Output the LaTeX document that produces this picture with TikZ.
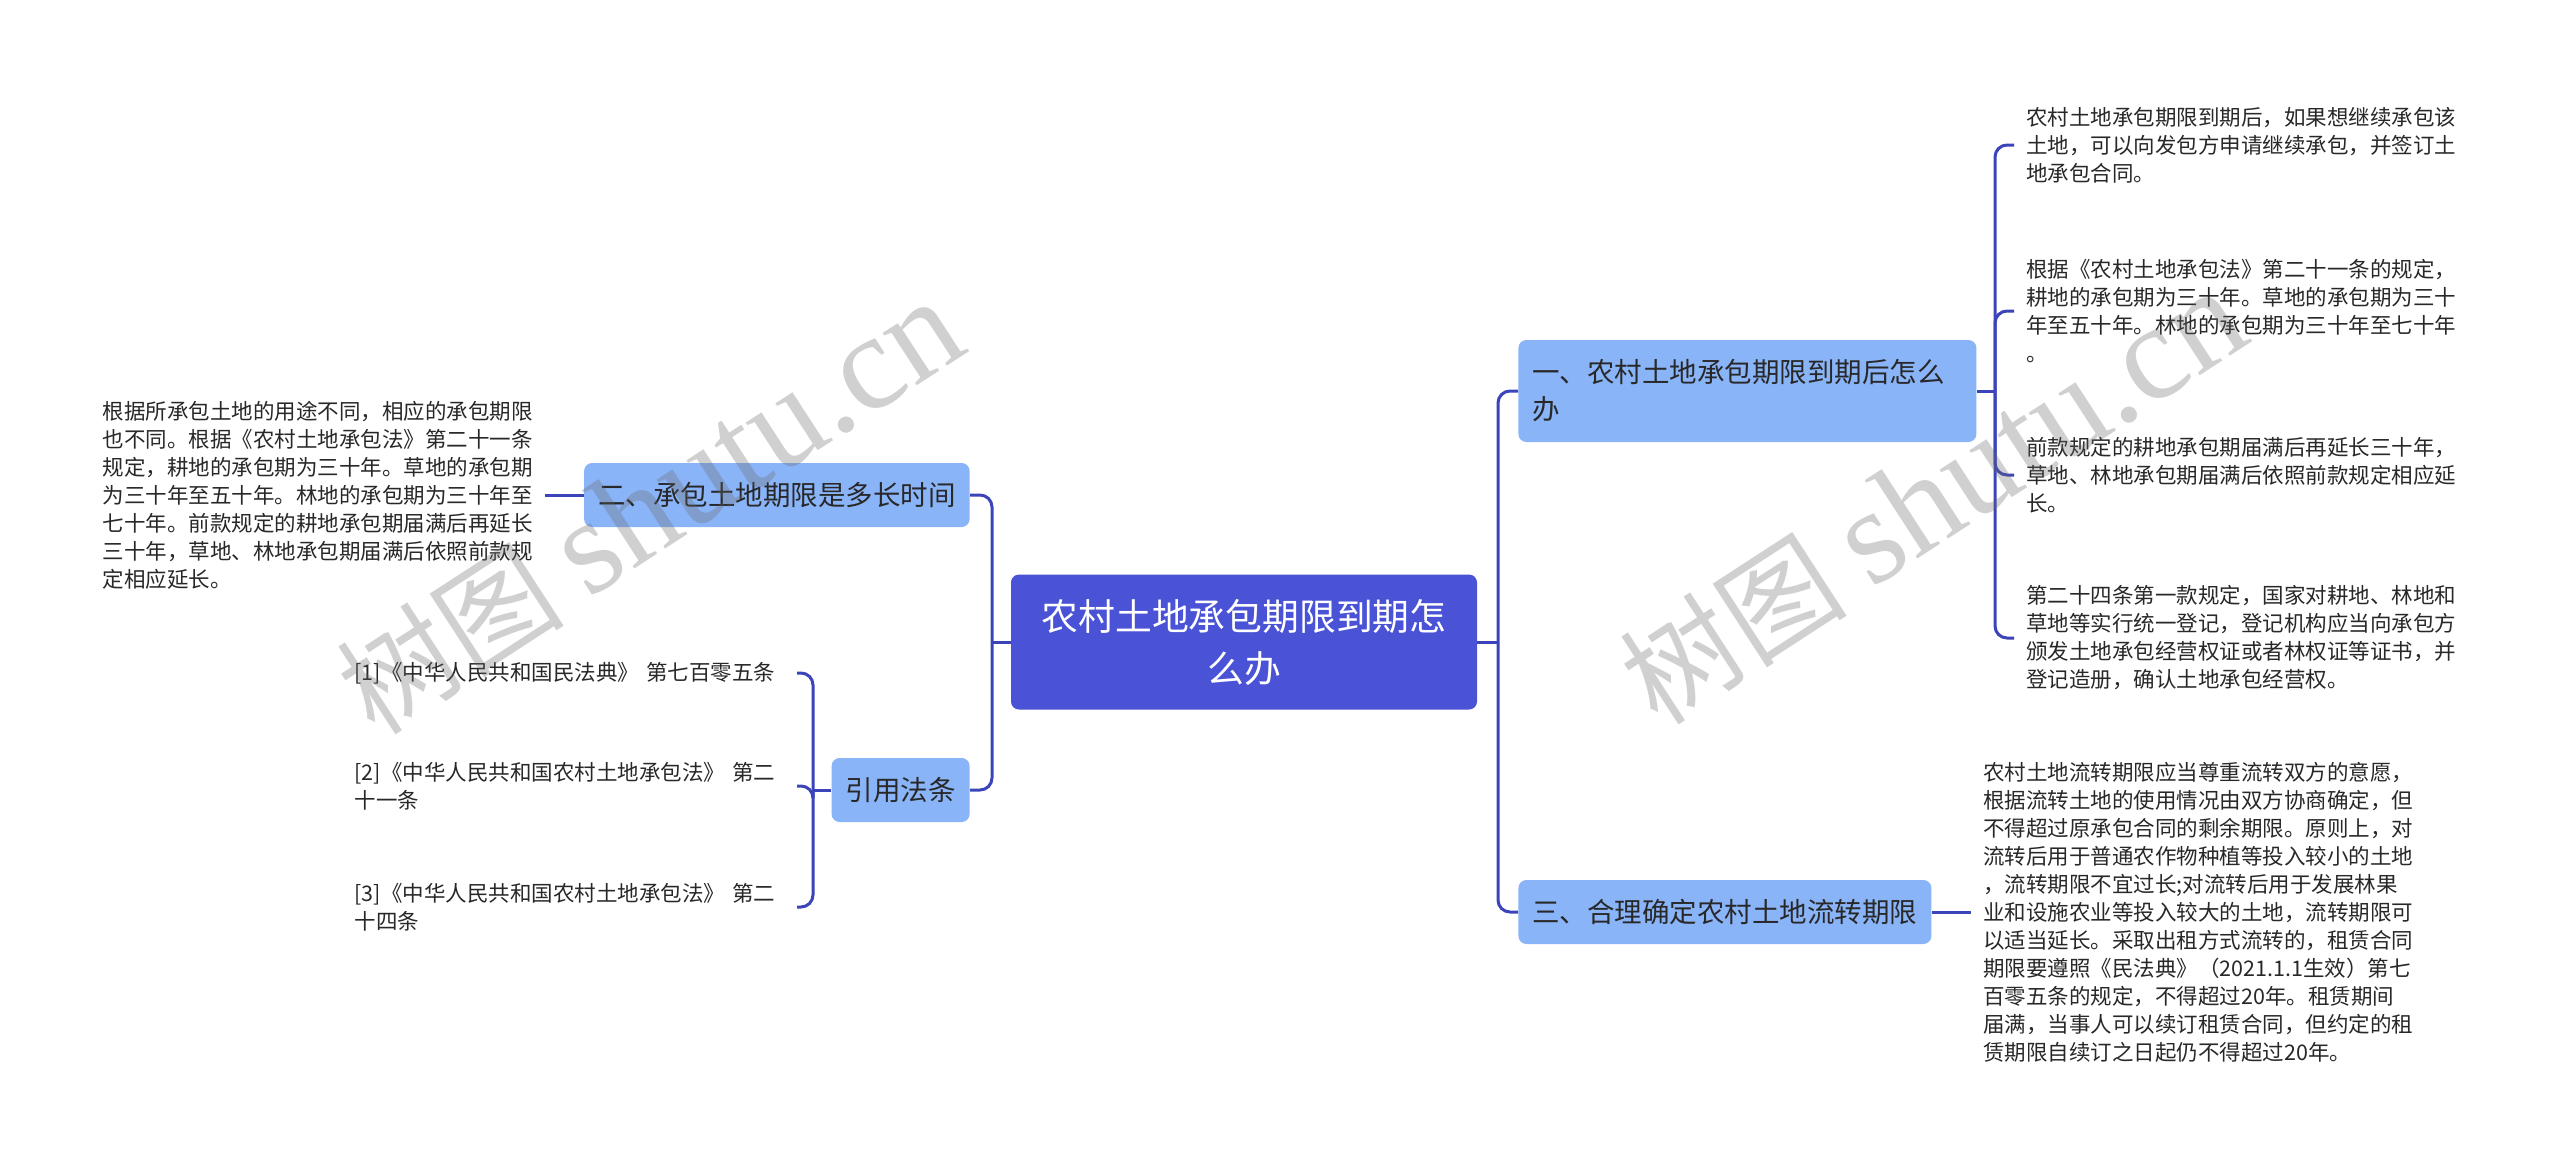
\documentclass[tikz,border=0pt]{standalone}
\usepackage{fontspec}
\setmainfont{Noto Sans CJK SC}
\newfontfamily\wmfont{Liberation Serif}
\definecolor{rootfill}{RGB}{74,82,214}
\definecolor{topicfill}{RGB}{138,180,248}
\definecolor{linkcol}{RGB}{60,68,186}
\definecolor{textdark}{RGB}{40,40,40}
\tikzset{
  root/.style={fill=rootfill, rounded corners=4pt, text=white, align=center,
    minimum width=233pt, minimum height=67.5pt, font=\fontsize{18.4}{26}\selectfont},
  topic/.style={fill=topicfill, rounded corners=4pt, text=textdark, align=left,
    inner xsep=7pt, minimum height=32pt, font=\fontsize{13.75}{18.5}\selectfont},
  leaf/.style={inner xsep=6pt, inner ysep=0pt, text=textdark, align=left,
    font=\fontsize{10.75}{14}\selectfont},
  link/.style={draw=linkcol, line width=1.5pt},
  elbow/.style={link, rounded corners=6pt},
  wm/.style={text=black!60, text opacity=0.3, font=\fontsize{57}{57}\selectfont}
}
\begin{document}
\begin{tikzpicture}[x=0.5pt,y=-0.5pt]

\useasboundingbox (0,0) rectangle (2560,1168);
\fill[white] (0,0) rectangle (2560,1168);

% centre and main branches
\node[root] (root) at (1244,642) {农村土地承包期限到期怎\\么办};
\node[topic, anchor=east] (two) at (970,495) {二、承包土地期限是多长时间};
\node[topic, anchor=east] (cite) at (970,790) {引用法条};
\node[topic, anchor=west, text width=215pt, minimum height=51pt] (one) at (1518,391) {一、农村土地承包期限到期后怎么\\办};
\node[topic, anchor=west] (three) at (1518,912) {三、合理确定农村土地流转期限};

\coordinate (jl) at (992,642);
\coordinate (jr) at (1498,642);
\coordinate (jc) at (813,790);
\coordinate (ja) at (1995,391);

% left side
\node[leaf, anchor=east] (l1) at (545,495) {根据所承包土地的用途不同，相应的承包期限\\也不同。根据《农村土地承包法》第二十一条\\规定，耕地的承包期为三十年。草地的承包期\\为三十年至五十年。林地的承包期为三十年至\\七十年。前款规定的耕地承包期届满后再延长\\三十年，草地、林地承包期届满后依照前款规\\定相应延长。};

\node[leaf, anchor=east, text width=215pt] (c1) at (797,673) {[1]《中华人民共和国民法典》 第七百零五条};
\node[leaf, anchor=east, text width=215pt] (c2) at (797,786) {[2]《中华人民共和国农村土地承包法》 第二\\十一条};
\node[leaf, anchor=east, text width=215pt] (c3) at (797,907) {[3]《中华人民共和国农村土地承包法》 第二\\十四条};

% right side
\node[leaf, anchor=west] (r1) at (2014,145) {农村土地承包期限到期后，如果想继续承包该\\土地，可以向发包方申请继续承包，并签订土\\地承包合同。};
\node[leaf, anchor=west] (r2) at (2014,311) {根据《农村土地承包法》第二十一条的规定，\\耕地的承包期为三十年。草地的承包期为三十\\年至五十年。林地的承包期为三十年至七十年\\。};
\node[leaf, anchor=west] (r3) at (2014,475) {前款规定的耕地承包期届满后再延长三十年，\\草地、林地承包期届满后依照前款规定相应延\\长。};
\node[leaf, anchor=west] (r4) at (2014,638) {第二十四条第一款规定，国家对耕地、林地和\\草地等实行统一登记，登记机构应当向承包方\\颁发土地承包经营权证或者林权证等证书，并\\登记造册，确认土地承包经营权。};
\node[leaf, anchor=west] (r5) at (1971,912) {农村土地流转期限应当尊重流转双方的意愿，\\根据流转土地的使用情况由双方协商确定，但\\不得超过原承包合同的剩余期限。原则上，对\\流转后用于普通农作物种植等投入较小的土地\\，流转期限不宜过长;对流转后用于发展林果\\业和设施农业等投入较大的土地，流转期限可\\以适当延长。采取出租方式流转的，租赁合同\\期限要遵照《民法典》（2021.1.1生效）第七\\百零五条的规定，不得超过20年。租赁期间\\届满，当事人可以续订租赁合同，但约定的租\\赁期限自续订之日起仍不得超过20年。};

% connectors
\draw[link] (root.west) -- (jl);
\draw[elbow] (jl) |- (two.east);
\draw[elbow] (jl) |- (cite.east);
\draw[link] (two.west) -- (l1.east);
\draw[link] (cite.west) -- (jc);
\draw[elbow] (jc) |- (c1.east);
\draw[elbow] (jc) |- (c2.east);
\draw[elbow] (jc) |- (c3.east);

\draw[link] (root.east) -- (jr);
\draw[elbow] (jr) |- (one.west);
\draw[elbow] (jr) |- (three.west);
\draw[link] (one.east) -- (ja);
\draw[elbow] (ja) |- (r1.west);
\draw[elbow] (ja) |- (r2.west);
\draw[elbow] (ja) |- (r3.west);
\draw[elbow] (ja) |- (r4.west);
\draw[link] (three.east) -- (r5.west);

% watermarks
\node[wm, rotate=33] (wm1) at (650,508) {树图 {\wmfont\fontsize{68}{68}\selectfont shutu.cn}};
\node[wm, rotate=33] (wm2) at (1933,498) {树图 {\wmfont\fontsize{68}{68}\selectfont shutu.cn}};
\end{tikzpicture}
\end{document}
